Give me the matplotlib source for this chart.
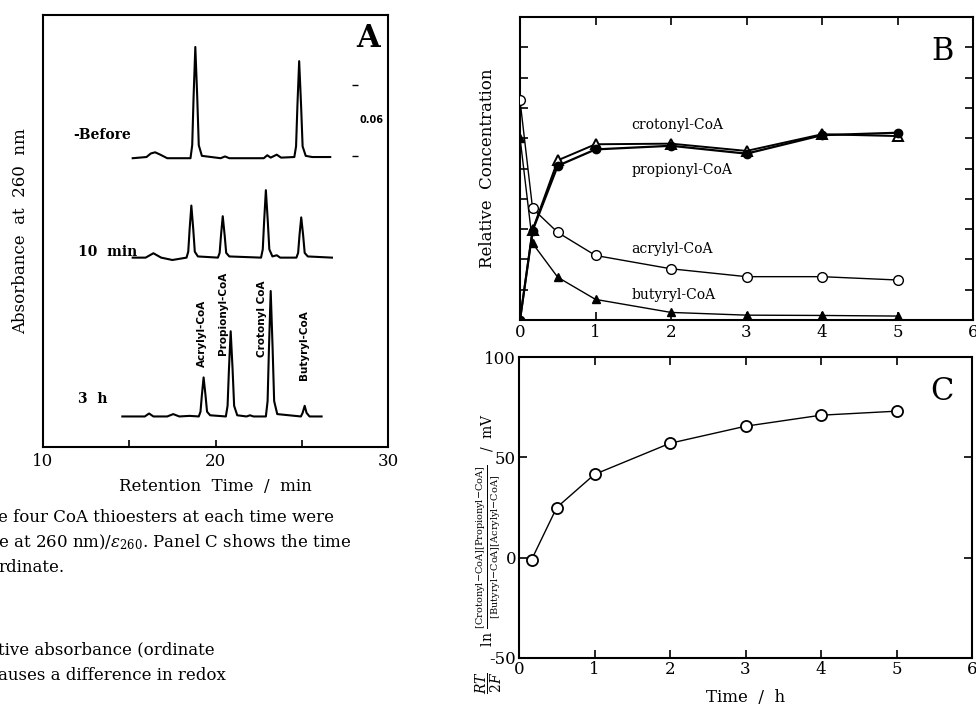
import matplotlib
matplotlib.use("Agg")
import matplotlib.pyplot as plt

plt.rcParams['font.family'] = ['DejaVu Serif']
plt.rcParams['mathtext.fontset'] = 'dejavuserif'
plt.rcParams['axes.unicode_minus'] = False

# ---- panel A: chromatograms (retention time in min, absorbance above each baseline) ----
before_t = [15.2, 16.0, 16.25, 16.5, 16.8, 17.2, 18.0,
            18.55, 18.65, 18.73, 18.83, 18.94, 19.03, 19.21,
            20.3, 20.55, 20.8, 22.8, 23.0, 23.2, 23.55, 23.8,
            24.57, 24.67, 24.75, 24.85, 24.96, 25.05, 25.23, 25.6, 26.65]
before_a = [0.0, 0.001, 0.004, 0.005, 0.003, 0.0, 0.0,
            0.0, 0.011, 0.052, 0.094, 0.052, 0.011, 0.002,
            0.0, 0.0015, 0.0, 0.0, 0.0025, 0.0005, 0.003, 0.0005,
            0.001, 0.010, 0.045, 0.082, 0.045, 0.010, 0.002, 0.001, 0.001]

min10_t = [15.2, 15.95, 16.4, 16.85, 17.5,
           18.32, 18.42, 18.5, 18.6, 18.71, 18.8, 18.98,
           20.14, 20.24, 20.32, 20.42, 20.53, 20.62, 20.8,
           22.64, 22.74, 22.82, 22.92, 23.03, 23.12, 23.3, 23.55, 23.75,
           24.69, 24.79, 24.87, 24.97, 25.08, 25.17, 25.35, 26.75]
min10_a = [0.0, 0.0, 0.0037, 0.0, -0.002,
           0.0, 0.005, 0.024, 0.044, 0.024, 0.005, 0.001,
           0.0, 0.004, 0.019, 0.035, 0.019, 0.004, 0.001,
           0.0, 0.007, 0.031, 0.057, 0.031, 0.007, 0.001, 0.002, 0.0,
           0.0, 0.004, 0.019, 0.034, 0.019, 0.004, 0.001, 0.0]

h3_t = [14.6, 15.9, 16.15, 16.4, 17.2, 17.55, 17.9, 18.5,
        19.03, 19.13, 19.21, 19.31, 19.42, 19.51, 19.69,
        20.6, 20.7, 20.78, 20.88, 20.99, 21.08, 21.26,
        21.8, 22.0, 22.2,
        22.92, 23.02, 23.1, 23.2, 23.31, 23.4, 23.58,
        24.95, 25.05, 25.17, 25.28, 25.45, 26.15]
h3_a = [0.0, 0.0, 0.0025, 0.0, 0.0, 0.002, 0.0, 0.0005,
        0.0, 0.004, 0.018, 0.033, 0.018, 0.004, 0.001,
        0.0, 0.009, 0.040, 0.072, 0.040, 0.009, 0.001,
        0.0, 0.001, 0.0,
        0.0, 0.013, 0.058, 0.106, 0.058, 0.013, 0.002,
        0.0, 0.003, 0.009, 0.003, 0.0, 0.0]

trace_names = ["-Before", "10  min", "3  h"]
peak_names = ["Acrylyl-CoA", "Propionyl-CoA", "Crotonyl CoA", "Butyryl-CoA"]

# ---- panel B: relative concentration vs time (h) ----
time_b = [0, 1/6, 0.5, 1, 2, 3, 4, 5]
acrylyl = [0.725, 0.368, 0.289, 0.213, 0.169, 0.143, 0.143, 0.132]
butyryl = [0.602, 0.253, 0.141, 0.068, 0.025, 0.016, 0.015, 0.013]
crotonyl = [0.0, 0.297, 0.527, 0.580, 0.582, 0.558, 0.613, 0.607]
propionyl = [0.0, 0.295, 0.509, 0.563, 0.575, 0.549, 0.610, 0.618]

# ---- panel C: RT/2F ln(...) in mV ----
time_c = [1/6, 0.5, 1, 2, 3, 4, 5]
potential = [-1, 25, 41.5, 57, 65.5, 71, 73]

W, H = 976, 704
fig = plt.figure(figsize=(W / 100, H / 100), dpi=100)


def box(l, t, r, b):
    return [l / W, 1 - b / H, (r - l) / W, (b - t) / H]


# panel A
axA = fig.add_axes(box(43, 15, 388, 447))
offsets = [0.244, 0.160, 0.0258]
for (tt, aa), off in zip([(before_t, before_a), (min10_t, min10_a), (h3_t, h3_a)], offsets):
    axA.plot(tt, [a + off for a in aa], color='black', lw=1.5)

name_pos = [(11.73, 0.2637), (12.0, 0.1648), (12.0, 0.0406)]
for name, (x, y) in zip(trace_names, name_pos):
    axA.text(x, y, name, ha='left', va='center', fontsize=10, fontweight='bold')

label_pos = [(19.2, 0.0676), (20.42, 0.0778), (22.68, 0.0761), (25.14, 0.0566)]
for name, (x, y) in zip(peak_names, label_pos):
    axA.text(x, y, name, rotation=90, ha='center', va='bottom', fontsize=7.5,
             fontweight='bold', family='DejaVu Sans')

# scale bar 0.06
axA.plot([28.1, 28.1], [0.246, 0.306], ls='none', marker='_', color='black', ms=4)
axA.text(28.35, 0.276, "0.06", fontsize=7, fontweight='bold', family='DejaVu Sans', va='center')
axA.text(29.5, 0.345, "A", fontsize=22, fontweight='bold', ha='right', va='center')
axA.set_xlim(10, 30)
axA.set_ylim(0, 0.365)
axA.set_xticks([10, 20, 30])
axA.set_xticks([15, 25], minor=True)
axA.set_yticks([])
axA.tick_params(axis='x', which='both', direction='in', length=5, width=1.2, labelsize=12, pad=4)
for s in axA.spines.values():
    s.set_linewidth(1.5)
axA.set_xlabel("Retention  Time  /  min", fontsize=12, labelpad=6)
axA.set_ylabel("Absorbance  at  260  nm", fontsize=12, labelpad=10)

# panel B
axB = fig.add_axes(box(520, 17, 973, 320))
axB.plot(time_b, acrylyl, color='black', lw=1, marker='o', mfc='white', mec='black', ms=7, zorder=3)
axB.plot(time_b, butyryl, color='black', lw=1, marker='^', mfc='black', mec='black', ms=6, zorder=3)
axB.plot(time_b, crotonyl, color='black', lw=1.4, marker='^', mfc='white', mec='black', ms=7, mew=1.4, zorder=3)
axB.plot(time_b, propionyl, color='black', lw=1.6, marker='o', mfc='black', mec='black', ms=6, zorder=4)
axB.text(1.48, 0.643, "crotonyl-CoA", fontsize=10, va='center')
axB.text(1.48, 0.495, "propionyl-CoA", fontsize=10, va='center')
axB.text(1.48, 0.234, "acrylyl-CoA", fontsize=10, va='center')
axB.text(1.48, 0.083, "butyryl-CoA", fontsize=10, va='center')
axB.text(5.75, 0.885, "B", fontsize=22, ha='right', va='center')
axB.set_xlim(0, 6)
axB.set_ylim(0, 1.0)
axB.set_xticks(range(7))
axB.set_yticks([i / 10 for i in range(11)])
axB.set_yticklabels([])
axB.tick_params(direction='in', length=6, width=1.2, top=True, right=True, labelsize=12, pad=3)
for s in axB.spines.values():
    s.set_linewidth(1.5)
axB.set_ylabel("Relative  Concentration", fontsize=12, labelpad=14)

# panel C
axC = fig.add_axes(box(519, 357, 972, 658))
axC.plot(time_c, potential, color='black', lw=1, marker='o', mfc='white', mec='black', ms=8, mew=1.3)
axC.text(5.75, 83, "C", fontsize=22, ha='right', va='center')
axC.set_xlim(0, 6)
axC.set_ylim(-50, 100)
axC.set_xticks(range(7))
axC.set_yticks([-50, 0, 50, 100])
axC.tick_params(direction='in', length=6, width=1.2, top=True, right=True, labelsize=12, pad=2)
for s in axC.spines.values():
    s.set_linewidth(1.5)
axC.set_xlabel("Time  /  h", fontsize=12, labelpad=8)
fig.text(489 / W, 1 - 694 / H,
         r"$\dfrac{RT}{2F}\qquad \mathrm{ln}\ \frac{[\mathrm{Crotonyl{-}CoA}][\mathrm{Propionyl{-}CoA}]}"
         r"{[\mathrm{Butyryl{-}CoA}][\mathrm{Acrylyl{-}CoA}]}$   /  mV",
         rotation=90, ha='center', va='bottom', fontsize=10)

# caption fragments
cap = [(518, "e four CoA thioesters at each time were"),
       (542, r"e at 260 nm)/$\varepsilon_{260}$. Panel C shows the time"),
       (567, "rdinate."),
       (650, "tive absorbance (ordinate"),
       (675, "auses a difference in redox")]
for y, s in cap:
    fig.text(-0.002, 1 - y / H, s, fontsize=12, ha='left', va='center')

fig.savefig("out.png", dpi=100)
